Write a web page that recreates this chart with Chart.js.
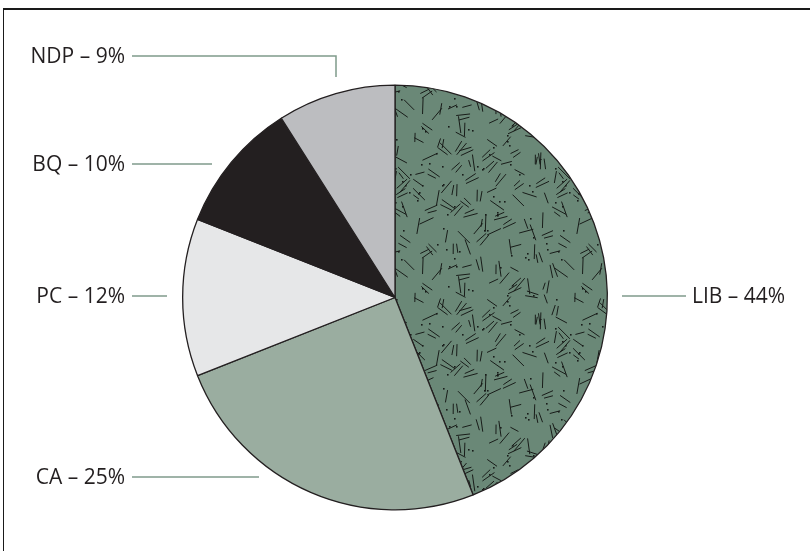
<!DOCTYPE html>
<html>
<head>
<meta charset="utf-8">
<script src="https://cdn.jsdelivr.net/npm/chart.js@4/dist/chart.umd.min.js"></script>
<style>
  html, body { margin: 0; padding: 0; background: #ffffff; }
  #wrap { position: relative; width: 810px; height: 551px; overflow: hidden; }
  #frame { position: absolute; left: 3px; top: 8px; width: 820px; height: 560px;
           border-top: 2px solid #1a1a1a; border-left: 1px solid #1a1a1a; box-sizing: border-box; }
  canvas { position: absolute; left: 0; top: 0; }
</style>
</head>
<body>
<div id="wrap">
  <div id="frame"></div>
  <canvas id="c" width="810" height="551"></canvas>
</div>
<script>
// ---- data ----
const categories = ['LIB', 'CA', 'PC', 'BQ', 'NDP'];
const shares = [44, 25, 12, 10, 9];

// ---- styles ----
const sliceColors = ['#6a8877', '#9aada0', '#e6e7e8', '#231f20', '#bcbdc0'];
const leaderColor = '#7f9a8b';
const textColor = '#231f20';

// label layout: text anchor and leader line points (layout only)
const labelLayout = {
  LIB: { x: 692, y: 297, align: 'left',  line: [[622, 296], [686, 296]] },
  CA:  { x: 125, y: 478, align: 'right', line: [[132, 477], [259, 477]] },
  PC:  { x: 125, y: 297, align: 'right', line: [[132, 296], [167, 296]] },
  BQ:  { x: 125, y: 165, align: 'right', line: [[132, 164], [212, 164]] },
  NDP: { x: 125, y: 57,  align: 'right', line: [[132, 56], [336, 56], [336, 77]] }
};

// texture for LIB slice (deterministic hatch pattern)
function makeTexture() {
  const T = 160;
  const t = document.createElement('canvas');
  t.width = T; t.height = T;
  const g = t.getContext('2d');
  g.fillStyle = sliceColors[0];
  g.fillRect(0, 0, T, T);
  let s = 98765;
  const rnd = () => { s = (s * 1103515245 + 12345) & 0x7fffffff; return s / 0x7fffffff; };
  const angles = [82, 92, 100, 28, 35, 145, 155, 18, 130, 45, 165, 70];
  g.strokeStyle = '#181c19';
  g.lineWidth = 1;
  g.lineCap = 'butt';
  const cells = 10, cs = T / cells;
  for (let gy = 0; gy < cells; gy++) for (let gx = 0; gx < cells; gx++) {
    const cx = (gx + rnd()) * cs, cy = (gy + rnd()) * cs;
    const a = angles[Math.floor(rnd() * angles.length)] * Math.PI / 180;
    const L = 9 + rnd() * 8;
    const dx = Math.cos(a) * L / 2, dy = Math.sin(a) * L / 2;
    for (const ox of [-T, 0, T]) for (const oy of [-T, 0, T]) {
      g.beginPath();
      g.moveTo(cx - dx + ox, cy - dy + oy);
      g.lineTo(cx + dx + ox, cy + dy + oy);
      g.stroke();
    }
    if (rnd() < 0.45) {
      const a2 = a + (rnd() < 0.5 ? 0.15 : -0.15);
      const off = 4;
      const px = -Math.sin(a) * off, py = Math.cos(a) * off;
      const L2 = 7 + rnd() * 7;
      const dx2 = Math.cos(a2) * L2 / 2, dy2 = Math.sin(a2) * L2 / 2;
      for (const ox of [-T, 0, T]) for (const oy of [-T, 0, T]) {
        g.beginPath();
        g.moveTo(cx + px - dx2 + ox, cy + py - dy2 + oy);
        g.lineTo(cx + px + dx2 + ox, cy + py + dy2 + oy);
        g.stroke();
      }
    }
  }
  g.fillStyle = '#181c19';
  for (let i = 0; i < 70; i++) {
    const cx = rnd() * T, cy = rnd() * T;
    g.fillRect(Math.round(cx), Math.round(cy), 1.6, 1.6);
  }
  return document.getElementById('c').getContext('2d').createPattern(t, 'repeat');
}

const colors = sliceColors.slice();
colors[0] = makeTexture();

const labelPlugin = {
  id: 'sideLabels',
  afterDraw(chart) {
    const ctx = chart.ctx;
    ctx.save();
    categories.forEach((cat, i) => {
      const L = labelLayout[cat];
      ctx.strokeStyle = leaderColor;
      ctx.lineWidth = 1.5;
      ctx.beginPath();
      L.line.forEach((p, k) => k ? ctx.lineTo(p[0], p[1]) : ctx.moveTo(p[0], p[1]));
      ctx.stroke();
      ctx.fillStyle = textColor;
      ctx.font = '21px "Open Sans"';
      ctx.textAlign = L.align;
      ctx.textBaseline = 'middle';
      ctx.fillText(cat + ' \u2013 ' + shares[i] + '%', L.x, L.y);
    });
    ctx.restore();
  }
};

new Chart(document.getElementById('c'), {
  type: 'pie',
  data: {
    labels: categories,
    datasets: [{
      data: shares,
      backgroundColor: colors,
      borderColor: '#231f20',
      borderWidth: 1.3
    }]
  },
  options: {
    responsive: false,
    animation: false,
    layout: { padding: { top: 84, bottom: 40, left: 182, right: 202 } },
    plugins: { legend: { display: false }, tooltip: { enabled: false } }
  },
  plugins: [labelPlugin]
});
</script>
</body>
</html>
